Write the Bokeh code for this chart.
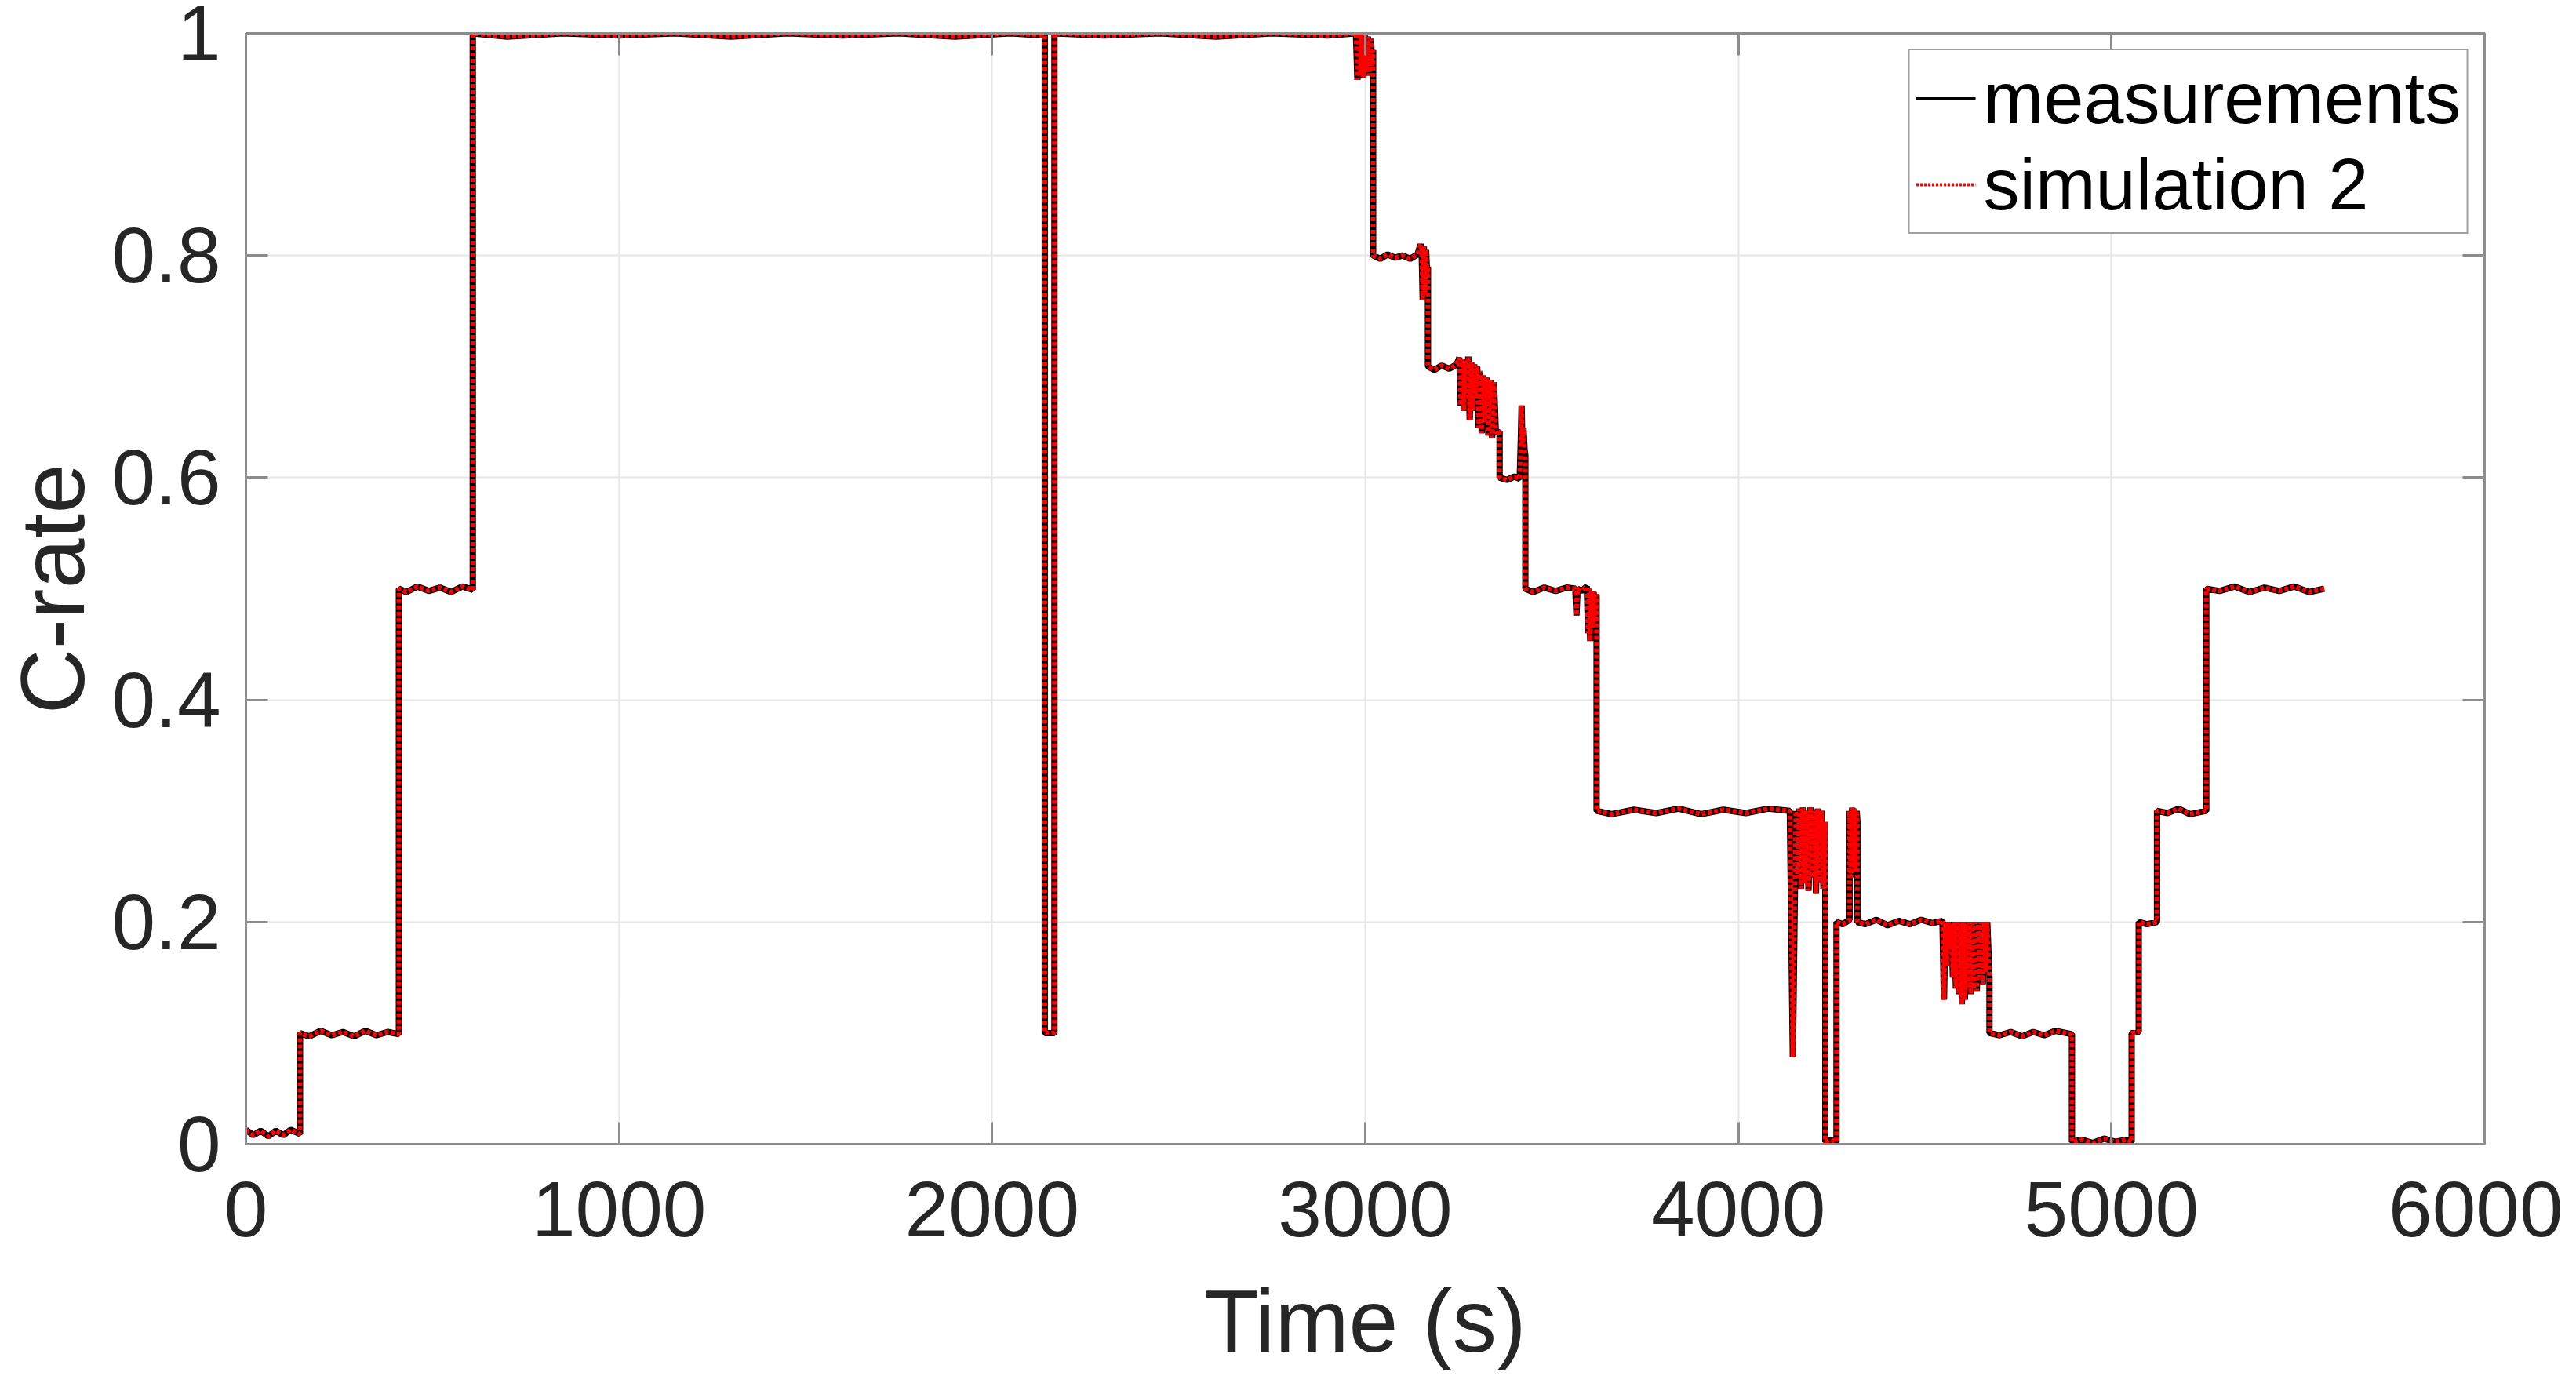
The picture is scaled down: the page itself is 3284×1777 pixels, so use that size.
from bokeh.plotting import figure
from bokeh.models import Range1d, LinearAxis, Legend, LegendItem, FixedTicker
from bokeh.embed import file_html
from bokeh.resources import INLINE

# ---- data (time in s, C-rate) ----
meas_points = [
    (0, 0.013), (20, 0.008), (40, 0.012), (60, 0.007), (80, 0.012), (100, 0.008), (120, 0.013), (145, 0.009), (145, 0.1),
    (170, 0.097), (200, 0.102), (230, 0.098), (260, 0.101), (290, 0.097), (320, 0.102), (350, 0.098), (380, 0.101), (410, 0.099), (410, 0.5),
    (430, 0.497), (460, 0.502), (490, 0.498), (520, 0.501), (550, 0.497), (580, 0.502), (608, 0.499), (608, 1.0),
    (700, 0.997), (850, 1.0), (1000, 0.998), (1150, 1.0), (1300, 0.997), (1450, 1.0), (1600, 0.998), (1750, 1.0), (1900, 0.997), (2050, 1.0),
    (2141, 0.998), (2141, 0.1), (2167, 0.1), (2167, 1.0),
    (2300, 0.998), (2450, 1.0), (2600, 0.997), (2750, 1.0), (2900, 0.998), (2975, 1.0), (2979, 0.958), (2983, 1.0), (2987, 0.962),
    (2991, 0.999), (2995, 0.96), (2999, 0.998), (3003, 0.965), (3007, 0.997), (3011, 0.962), (3015, 0.995), (3019, 0.97), (3021, 0.985), (3021, 0.8),
    (3040, 0.797), (3060, 0.801), (3080, 0.798), (3100, 0.8), (3120, 0.797), (3140, 0.801), (3148, 0.81), (3151, 0.806), (3154, 0.76),
    (3157, 0.808), (3160, 0.765), (3163, 0.805), (3166, 0.78), (3168, 0.79), (3168, 0.7),
    (3185, 0.697), (3205, 0.701), (3225, 0.698), (3245, 0.702), (3252, 0.708), (3256, 0.665), (3260, 0.707), (3264, 0.66), (3268, 0.705),
    (3272, 0.672), (3276, 0.709), (3280, 0.652), (3284, 0.704), (3288, 0.66), (3292, 0.702), (3296, 0.675), (3300, 0.7), (3304, 0.645),
    (3308, 0.696), (3312, 0.64), (3316, 0.692), (3320, 0.65), (3325, 0.69), (3330, 0.638), (3335, 0.688), (3340, 0.636), (3345, 0.686),
    (3350, 0.64), (3360, 0.642), (3360, 0.6),
    (3380, 0.598), (3400, 0.601), (3414, 0.599), (3417, 0.635), (3419, 0.665), (3421, 0.63), (3424, 0.645), (3427, 0.625), (3429, 0.62), (3429, 0.5),
    (3450, 0.497), (3480, 0.501), (3510, 0.498), (3540, 0.501), (3563, 0.5), (3566, 0.476), (3569, 0.5), (3580, 0.498), (3594, 0.502),
    (3597, 0.46), (3600, 0.5), (3603, 0.453), (3606, 0.498), (3609, 0.465), (3612, 0.497), (3616, 0.47), (3620, 0.495), (3620, 0.3),
    (3660, 0.297), (3720, 0.301), (3780, 0.298), (3840, 0.302), (3900, 0.297), (3960, 0.301), (4020, 0.298), (4080, 0.302), (4138, 0.3),
    (4146, 0.078), (4154, 0.3), (4158, 0.24), (4163, 0.302), (4168, 0.23), (4173, 0.303), (4178, 0.235), (4183, 0.3), (4188, 0.228),
    (4193, 0.303), (4198, 0.24), (4203, 0.3), (4208, 0.226), (4213, 0.302), (4218, 0.236), (4223, 0.3), (4228, 0.23), (4233, 0.29), (4233, 0.002),
    (4248, 0.004), (4263, 0.002), (4263, 0.2),
    (4280, 0.198), (4298, 0.202), (4298, 0.3), (4302, 0.24), (4305, 0.303), (4308, 0.25), (4311, 0.302), (4314, 0.245), (4317, 0.3), (4319, 0.29), (4319, 0.2),
    (4340, 0.198), (4370, 0.202), (4400, 0.197), (4430, 0.201), (4460, 0.198), (4490, 0.202), (4520, 0.199), (4547, 0.201),
    (4551, 0.13), (4555, 0.2), (4559, 0.16), (4563, 0.2), (4567, 0.175), (4571, 0.198), (4575, 0.15), (4579, 0.2), (4583, 0.14),
    (4587, 0.2), (4591, 0.135), (4595, 0.199), (4599, 0.126), (4603, 0.2), (4607, 0.13), (4611, 0.198), (4615, 0.14), (4619, 0.2),
    (4623, 0.135), (4627, 0.199), (4631, 0.14), (4635, 0.2), (4639, 0.138), (4643, 0.198), (4647, 0.15), (4651, 0.2), (4655, 0.144),
    (4659, 0.2), (4663, 0.155), (4667, 0.2), (4673, 0.15), (4673, 0.1),
    (4700, 0.098), (4730, 0.101), (4760, 0.097), (4790, 0.101), (4820, 0.098), (4850, 0.102), (4894, 0.099), (4894, 0.002),
    (4920, 0.004), (4950, 0.001), (4980, 0.005), (5010, 0.002), (5040, 0.004), (5054, 0.002), (5054, 0.1), (5073, 0.101), (5073, 0.2),
    (5095, 0.198), (5122, 0.2), (5122, 0.3),
    (5150, 0.298), (5180, 0.302), (5210, 0.297), (5254, 0.3), (5254, 0.5),
    (5290, 0.498), (5330, 0.502), (5370, 0.497), (5410, 0.501), (5450, 0.498), (5490, 0.502), (5530, 0.497), (5570, 0.5),
]
time_s = [pt[0] for pt in meas_points]
c_rate_meas = [pt[1] for pt in meas_points]
# simulation 2 lies on top of the measurement everywhere at this resolution
c_rate_sim = list(c_rate_meas)

x_tick_values = [0, 1000, 2000, 3000, 4000, 5000, 6000]
x_tick_labels = ["0", "1000", "2000", "3000", "4000", "5000", "6000"]
y_tick_values = [0, 0.2, 0.4, 0.6, 0.8, 1]
y_tick_labels = ["0", "0.2", "0.4", "0.6", "0.8", "1"]
series_labels = ["measurements", "simulation 2"]

FONT = "Liberation Sans"
TXT = "#262626"
AX = "#8c8c8c"

p = figure(frame_width=2854, frame_height=1416,
           x_range=Range1d(0, 6000), y_range=Range1d(0, 1),
           output_backend="svg", toolbar_location=None,
           min_border_left=306, min_border_top=42, min_border_right=100, min_border_bottom=294)
p.background_fill_color = "white"
p.border_fill_color = "white"
p.outline_line_color = AX
p.outline_line_width = 3

def style_axis(ax, ticks, labels, show_labels=True):
    ax.ticker = FixedTicker(ticks=ticks)
    ax.major_label_overrides = {v: s for v, s in zip(ticks, labels)}
    ax.minor_tick_line_color = None
    ax.major_tick_in = 28
    ax.major_tick_out = 0
    ax.major_tick_line_color = AX
    ax.major_tick_line_width = 3
    ax.axis_line_color = AX
    ax.axis_line_width = 3
    ax.major_label_text_font = FONT
    if show_labels:
        ax.major_label_text_color = TXT
        ax.major_label_text_font_size = "100px"
    else:
        ax.major_label_text_color = None
        ax.major_label_text_font_size = "1px"
        ax.major_label_standoff = 0

xa = p.xaxis[0]
ya = p.yaxis[0]
style_axis(xa, x_tick_values, x_tick_labels)
style_axis(ya, y_tick_values, y_tick_labels)
xa.major_label_standoff = 48
ya.major_label_standoff = 32
xa.axis_label = "Time (s)"
ya.axis_label = "C-rate"
for ax in (xa, ya):
    ax.axis_label_text_font = FONT
    ax.axis_label_text_font_style = "normal"
    ax.axis_label_text_color = TXT
xa.axis_label_text_font_size = "113px"
ya.axis_label_text_font_size = "115px"
xa.axis_label_standoff = 42
ya.axis_label_standoff = 8

top_ax = LinearAxis()
style_axis(top_ax, x_tick_values, x_tick_labels, show_labels=False)
p.add_layout(top_ax, "above")
right_ax = LinearAxis()
style_axis(right_ax, y_tick_values, y_tick_labels, show_labels=False)
p.add_layout(right_ax, "right")

p.xgrid.ticker = FixedTicker(ticks=x_tick_values)
p.ygrid.ticker = FixedTicker(ticks=y_tick_values)
for g in (p.xgrid[0], p.ygrid[0]):
    g.grid_line_color = "#e6e6e6"
    g.grid_line_width = 2

p.line(time_s, c_rate_meas, line_color="black", line_width=8)
p.line(time_s, c_rate_sim, line_color="#ff0000", line_width=6, line_dash="5 3")

# thin copies (hidden in the plot) that give the legend its thin glyphs
leg_meas = p.line(time_s, c_rate_meas, line_color="black", line_width=3, visible=False)
leg_sim = p.line(time_s, c_rate_sim, line_color="#ff0000", line_width=4, line_dash="3 2", visible=False)

legend = Legend(items=[LegendItem(label=series_labels[0], renderers=[leg_meas]),
                       LegendItem(label=series_labels[1], renderers=[leg_sim])],
                location="top_right")
legend.label_text_font = FONT
legend.label_text_font_size = "92px"
legend.label_text_color = "black"
legend.glyph_width = 76
legend.glyph_height = 106
legend.label_height = 106
legend.label_standoff = 10
legend.padding = 8
legend.spacing = 4
legend.margin = 20
legend.border_line_color = "#404040"
legend.border_line_width = 2
legend.background_fill_color = "white"
legend.background_fill_alpha = 1
p.add_layout(legend)

open("out.html", "w").write(file_html(p, INLINE))
